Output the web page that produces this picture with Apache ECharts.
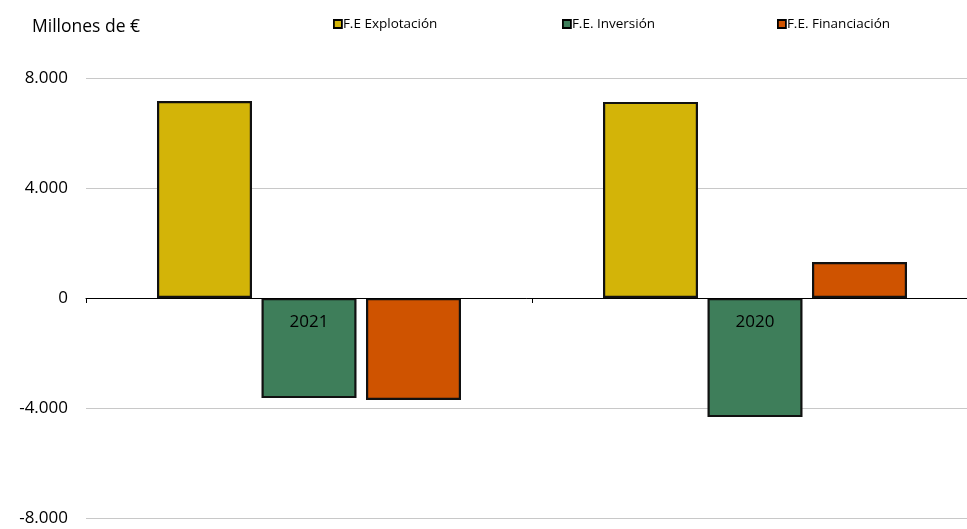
<!DOCTYPE html>
<html><head><meta charset="utf-8">
<script src="https://cdn.jsdelivr.net/npm/echarts@6/dist/echarts.min.js"></script>
<style>html,body{margin:0;padding:0;background:#fff}#c{width:967px;height:529px}</style>
</head><body><div id="c"></div>
<script>
const categories = ['2021', '2020'];
const seriesNames = ['F.E Explotación', 'F.E. Inversión', 'F.E. Financiación'];
const explotacion = [7160, 7130];
const inversion = [-3640, -4330];
const financiacion = [-3710, 1310];
const yTicks = [-8000, -4000, 0, 4000, 8000];
const colors = ['#D3B408', '#3E7E5A', '#CF5300'];
const FONT = '"Open Sans", "Noto Sans", sans-serif';

const fmt = v => {
  const s = Math.abs(v).toString().replace(/\B(?=(\d{3})+(?!\d))/g, '.');
  return (v < 0 ? '-' : '') + s;
};

const chart = echarts.init(document.getElementById('c'));
const vals = [explotacion, inversion, financiacion];
const legendX = [328, 557, 772];
chart.setOption({
  animation: false,
  textStyle: {fontFamily: FONT},
  graphic: [{type: 'text', left: 32, top: 18, style: {text: 'Millones de €', font: '17.5px ' + FONT, fill: '#000'}}],
  legend: seriesNames.map((n, i) => ({
    data: [n], left: legendX[i], top: 12, itemWidth: 8, itemHeight: 8, itemGap: 2,
    icon: 'rect', textStyle: {fontSize: 13.5, color: '#000', fontFamily: FONT, padding: [0, 0, 0, -4]},
    itemStyle: {borderColor: '#000', borderWidth: 1.8}
  })),
  grid: {left: 86, top: 78, width: 892, height: 440, containLabel: false, outerBoundsMode: 'none'},
  xAxis: {
    type: 'category', data: categories, z: 10,
    axisLine: {onZero: true, lineStyle: {color: '#000', width: 1}},
    axisTick: {show: true, length: 5, lineStyle: {color: '#000'}},
    axisLabel: {show: false},
    splitLine: {show: false}
  },
  yAxis: {
    type: 'value', min: -8000, max: 8000, interval: 4000,
    axisLine: {show: false}, axisTick: {show: false},
    axisLabel: {color: '#000', fontSize: 17, margin: 18, formatter: fmt, fontFamily: FONT},
    splitLine: {lineStyle: {color: '#c8c8c8', width: 1}}
  },
  series: seriesNames.map((n, i) => ({
    name: n, type: 'bar', data: vals[i], barWidth: 95, barGap: '10%',
    itemStyle: {color: colors[i], borderColor: '#111', borderWidth: 2.2},
    label: i === 1 ? {show: true, position: 'insideTop', distance: 16, formatter: p => p.name,
      color: '#000', fontSize: 17, fontFamily: FONT} : {show: false}
  }))
});
</script></body></html>
